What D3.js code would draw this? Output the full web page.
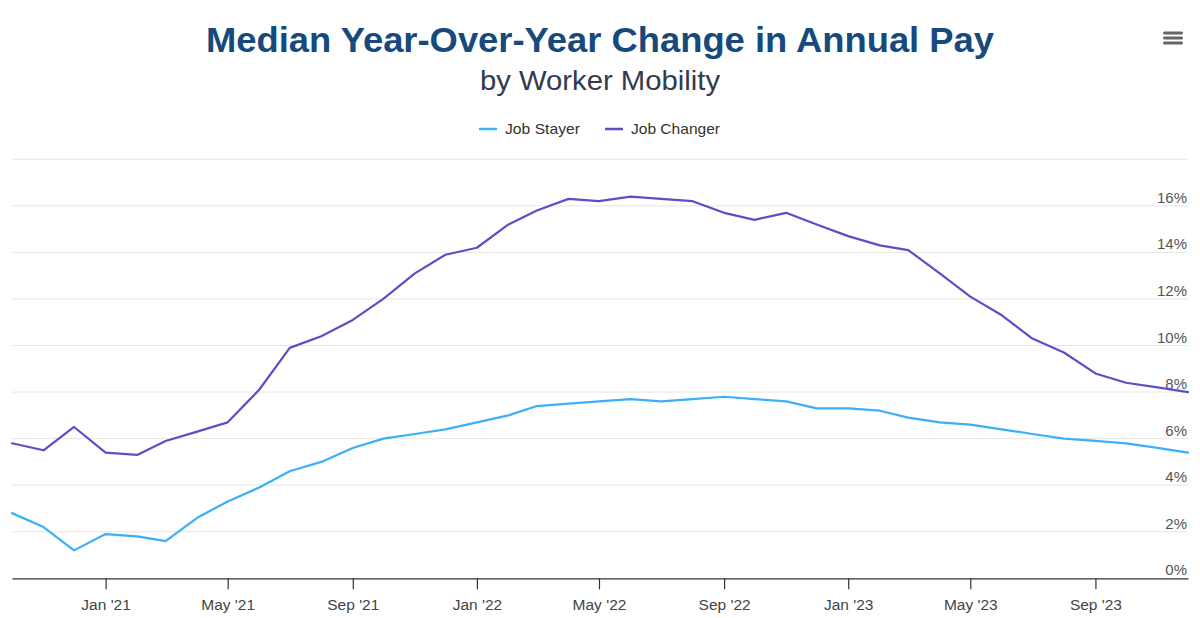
<!DOCTYPE html>
<html><head><meta charset="utf-8">
<script src="https://cdn.jsdelivr.net/npm/d3@7"></script>
<style>body{margin:0;background:#fff;}svg{display:block;}</style>
</head><body>
<svg id="chart" width="1200" height="618"></svg>
<script>
const months = ["2020-10","2020-11","2020-12","2021-01","2021-02","2021-03","2021-04","2021-05","2021-06","2021-07","2021-08","2021-09","2021-10","2021-11","2021-12","2022-01","2022-02","2022-03","2022-04","2022-05","2022-06","2022-07","2022-08","2022-09","2022-10","2022-11","2022-12","2023-01","2023-02","2023-03","2023-04","2023-05","2023-06","2023-07","2023-08","2023-09","2023-10","2023-11","2023-12"];
const jobStayer = [2.8,2.2,1.2,1.9,1.8,1.6,2.6,3.3,3.9,4.6,5.0,5.6,6.0,6.2,6.4,6.7,7.0,7.4,7.5,7.6,7.7,7.6,7.7,7.8,7.7,7.6,7.3,7.3,7.2,6.9,6.7,6.6,6.4,6.2,6.0,5.9,5.8,5.6,5.4];
const jobChanger = [5.8,5.5,6.5,5.4,5.3,5.9,6.3,6.7,8.1,9.9,10.4,11.1,12.0,13.1,13.9,14.2,15.2,15.8,16.3,16.2,16.4,16.3,16.2,15.7,15.4,15.7,15.2,14.7,14.3,14.1,13.1,12.1,11.3,10.3,9.7,8.8,8.4,8.2,8.0];
const yTicks = [0,2,4,6,8,10,12,14,16,18];
const xTickMonths = ["2021-01","2021-05","2021-09","2022-01","2022-05","2022-09","2023-01","2023-05","2023-09"];
const seriesNames = ["Job Stayer","Job Changer"];
const seriesColors = ["#3ab0f8","#5b4fc7"];

(function(){
const FONT = "Liberation Sans, Arial, sans-serif";
const parse = d3.timeParse("%Y-%m");
const dates = months.map(parse);
const svg = d3.select("#chart");
const pLeft = 12, pRight = 1188, pTop = 159.3, pBottom = 578.3;

const x = d3.scaleTime().domain(d3.extent(dates)).range([pLeft, pRight]);
const y = d3.scaleLinear().domain([0, 18]).range([pBottom, pTop]);

// title
svg.append("text").attr("x", 206).attr("y", 52)
  .attr("font-family",FONT).attr("font-weight","bold")
  .attr("font-size", 35.5).attr("fill","#174a7c")
  .attr("textLength", 788).attr("lengthAdjust","spacingAndGlyphs")
  .text("Median Year-Over-Year Change in Annual Pay");
svg.append("text").attr("x", 480).attr("y", 90)
  .attr("font-family",FONT)
  .attr("font-size", 28.5).attr("fill","#333a4e")
  .attr("textLength", 240).attr("lengthAdjust","spacingAndGlyphs")
  .text("by Worker Mobility");

// menu icon
[0,1,2].forEach(i => svg.append("rect").attr("x",1163).attr("y",31.5+i*5).attr("width",20).attr("height",3).attr("rx",1.5).attr("fill","#666"));

// legend
const legendData = [
  {name: seriesNames[0], color: seriesColors[0], x: 479, tx: 505, w: 75},
  {name: seriesNames[1], color: seriesColors[1], x: 605, tx: 631, w: 89}];
legendData.forEach(l => {
  svg.append("line").attr("x1", l.x).attr("x2", l.x+18).attr("y1",129).attr("y2",129).attr("stroke", l.color).attr("stroke-width",2.5);
  svg.append("text").attr("x", l.tx).attr("y",134).attr("font-family",FONT)
    .attr("font-size",15).attr("fill","#333")
    .attr("textLength", l.w).attr("lengthAdjust","spacingAndGlyphs").text(l.name);
});

// gridlines
svg.append("g").selectAll("line").data(yTicks.slice(1)).join("line")
  .attr("x1", pLeft).attr("x2", pRight).attr("y1", d => y(d)).attr("y2", d => y(d))
  .attr("stroke","#e6e6e6").attr("stroke-width",1);

// y labels (right side, above gridline)
svg.append("g").selectAll("text").data(yTicks.slice(0, -1)).join("text")
  .attr("x", 1187).attr("y", d => y(d) - 3).attr("text-anchor","end")
  .attr("font-family",FONT).attr("font-size",15).attr("fill","#555")
  .text(d => d + "%");

// x axis
const xAxis = d3.axisBottom(x).tickValues(xTickMonths.map(parse))
  .tickFormat(d3.timeFormat("%b '%y")).tickSize(11).tickSizeOuter(0);
const gx = svg.append("g").attr("transform", `translate(0,${pBottom})`).call(xAxis);
gx.select(".domain").attr("stroke","#333").attr("stroke-width",1.2);
gx.selectAll(".tick line").attr("stroke","#333").attr("stroke-width",1.2);
gx.selectAll(".tick text").attr("font-family",FONT).attr("font-size",15.5)
  .attr("fill","#444").attr("y", 32).attr("dy", 0);

// lines
const line = d3.line().x((d,i) => x(dates[i])).y(d => y(d));
[jobStayer, jobChanger].forEach((s, k) => {
  svg.append("path").datum(s).attr("d", line).attr("fill","none")
    .attr("stroke", seriesColors[k]).attr("stroke-width",2.2).attr("stroke-linejoin","round").attr("stroke-linecap","round");
});
})();
</script>
</body></html>
